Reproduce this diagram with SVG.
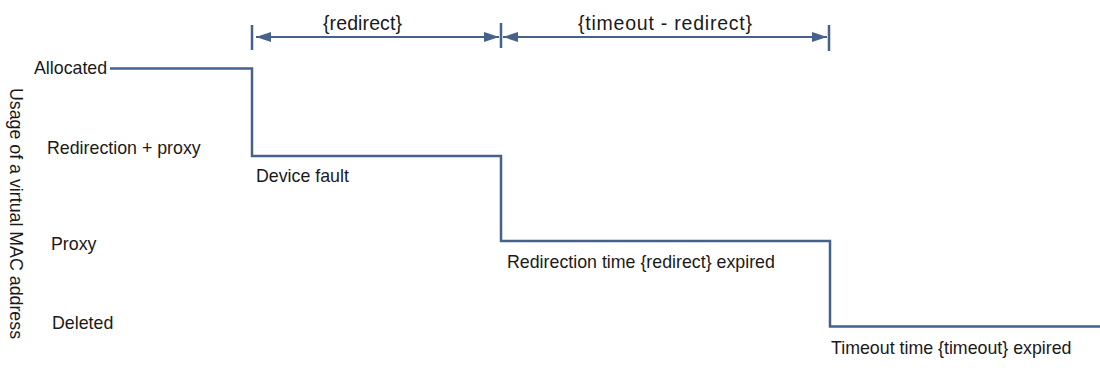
<svg xmlns="http://www.w3.org/2000/svg" width="1100" height="382" viewBox="0 0 1100 382">
<style>
text{font-family:"Liberation Sans",Arial,sans-serif;font-size:17.8px;fill:#1a1a1a}
text.dl{font-size:19.5px}
.step{fill:none;stroke:#44628c;stroke-width:2.5}
.dim{stroke:#44628c;stroke-width:2}
.tick{stroke:#44628c;stroke-width:2.5}
</style>
<defs>
<marker id="ah" viewBox="0 0 15 10" refX="15" refY="5" markerWidth="15" markerHeight="10" markerUnits="userSpaceOnUse" orient="auto-start-reverse">
<path d="M0,0 L15,5 L0,10 Z" fill="#44628c"/>
</marker>
</defs>
<rect width="1100" height="382" fill="#ffffff"/>
<g id="axis-label">
<text transform="translate(10,88) rotate(90)">Usage of a virtual MAC address</text>
</g>
<g id="level-allocated"><text x="34" y="74">Allocated</text></g>
<g id="level-redirection-proxy"><text x="47" y="154">Redirection + proxy</text></g>
<g id="level-proxy"><text x="51" y="250">Proxy</text></g>
<g id="level-deleted"><text x="52" y="329">Deleted</text></g>
<g id="event-device-fault"><text x="256" y="182">Device fault</text></g>
<g id="event-redirect-expired"><text x="507" y="268">Redirection time {redirect} expired</text></g>
<g id="event-timeout-expired"><text x="831" y="354">Timeout time {timeout} expired</text></g>
<g id="dim-redirect-label"><text class="dl" x="323" y="30" textLength="79" lengthAdjust="spacing">{redirect}</text></g>
<g id="dim-timeout-label"><text class="dl" x="578" y="30" textLength="174" lengthAdjust="spacing">{timeout - redirect}</text></g>
<g id="connectors">
<polyline class="step" points="110,68.5 252,68.5 252,156 501,156 501,241 830,241 830,326.5 1100,326.5"/>
<line class="tick" x1="252" y1="25" x2="252" y2="50"/>
<line class="tick" x1="501" y1="23" x2="501" y2="48"/>
<line class="tick" x1="829" y1="25" x2="829" y2="51"/>
<line class="dim" x1="256" y1="37" x2="499" y2="37" marker-start="url(#ah)" marker-end="url(#ah)"/>
<line class="dim" x1="503" y1="37" x2="827" y2="37" marker-start="url(#ah)" marker-end="url(#ah)"/>
</g>
</svg>
